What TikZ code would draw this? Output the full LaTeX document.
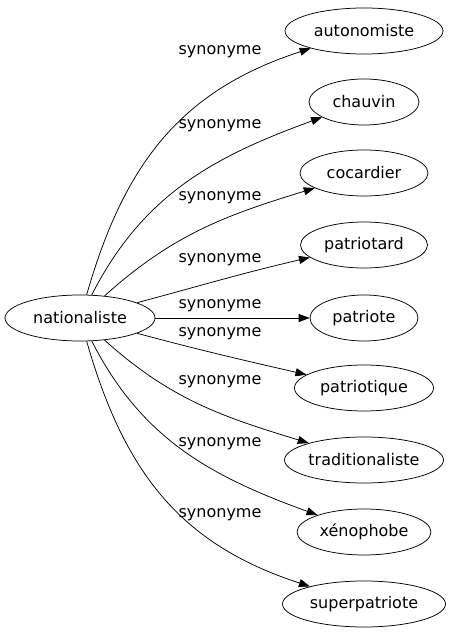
\documentclass[tikz,border=0pt]{standalone}
\usepackage{fontspec}
\setmainfont{DejaVu Sans}
\usetikzlibrary{shapes.geometric,arrows.meta}
\begin{document}
\begin{tikzpicture}[x=1pt,y=1pt,
  every node/.style={font=\fontsize{16}{19}\selectfont},
  term/.style={ellipse,draw,line width=0.75pt,inner sep=0pt,minimum height=46pt},
  lab/.style={inner sep=0pt},
  syn/.style={-{Triangle[length=11pt,width=8pt]},line width=0.75pt}]
\useasboundingbox (0,0) rectangle (455,635);
\node[term,minimum width=150pt] (nat) at (80,317) {nationaliste};
\node[term,minimum width=158pt] (a1) at (364,604) {autonomiste};
\node[term,minimum width=110pt] (a2) at (364,533) {chauvin};
\node[term,minimum width=128pt] (a3) at (364,462) {cocardier};
\node[term,minimum width=127pt] (a4) at (364,390) {patriotard};
\node[term,minimum width=108pt] (a5) at (364,317) {patriote};
\node[term,minimum width=139pt] (a6) at (364,247) {patriotique};
\node[term,minimum width=159pt] (a7) at (364,175) {traditionaliste};
\node[term,minimum width=134pt] (a8) at (364,103) {xénophobe};
\node[term,minimum width=163pt] (a9) at (364,31) {superpatriote};
\node[lab] (l1) at (220,583) {synonyme};
\node[lab] (l2) at (220,509) {synonyme};
\node[lab] (l3) at (220,437) {synonyme};
\node[lab] (l4) at (220,375) {synonyme};
\node[lab] (l5) at (220,329) {synonyme};
\node[lab] (l6) at (220,301) {synonyme};
\node[lab] (l7) at (220,253) {synonyme};
\node[lab] (l8) at (220,191) {synonyme};
\node[lab] (l9) at (220,120) {synonyme};
\draw[syn] (nat) to[out=74,in=198,looseness=1.05] (a1);
\draw[syn] (nat) to[out=63,in=200] (a2);
\draw[syn] (nat) to[out=42,in=197] (a3);
\draw[syn] (nat) to[out=15,in=193] (a4);
\draw[syn] (nat) -- (a5);
\draw[syn] (nat) to[out=-15,in=167] (a6);
\draw[syn] (nat) to[out=-42,in=163] (a7);
\draw[syn] (nat) to[out=-63,in=160] (a8);
\draw[syn] (nat) to[out=-74,in=162,looseness=1.05] (a9);
\end{tikzpicture}
\end{document}
